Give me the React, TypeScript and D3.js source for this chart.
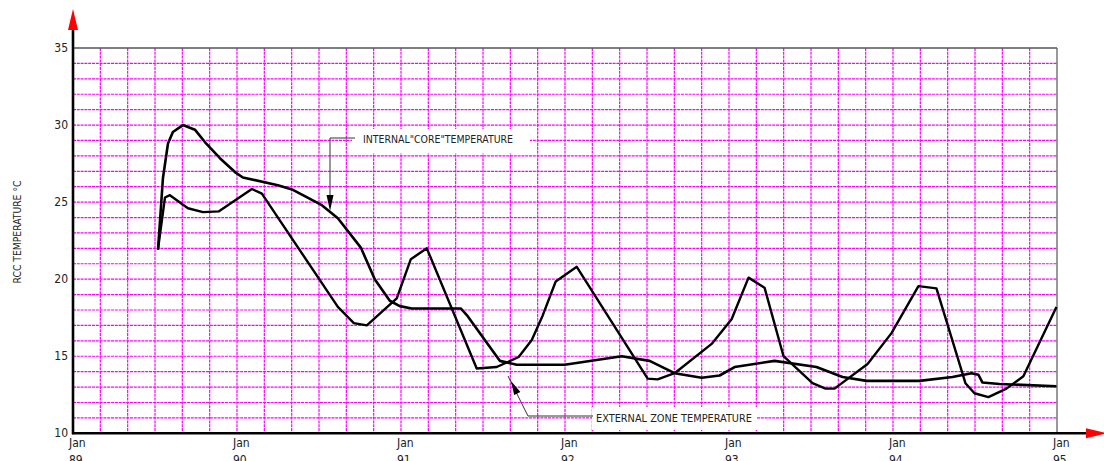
import React from "react";
import * as d3 from "d3";

// Months counted from Jan 1989
const internalMonths = [6.22, 6.58, 6.95, 7.31, 8.04, 8.92, 9.65, 10.75, 11.85, 12.43, 14.99, 16.09, 18.21, 19.38, 21.06, 22.08, 23.18, 23.91, 24.79, 28.37, 28.88, 31.23, 32.47, 35.98, 40.15, 42.19, 44.02, 46.0, 47.31, 48.41, 51.33, 54.4, 56.31, 58.06, 61.94, 64.35, 65.74, 66.25, 66.54, 67.79, 71.96];
const internalTemps = [21.9, 26.55, 28.8, 29.55, 30.0, 29.7, 28.9, 27.85, 26.95, 26.6, 26.1, 25.8, 24.8, 23.95, 22.05, 20.0, 18.6, 18.25, 18.1, 18.1, 17.6, 14.7, 14.45, 14.45, 15.0, 14.7, 13.9, 13.6, 13.75, 14.3, 14.7, 14.3, 13.65, 13.4, 13.4, 13.65, 13.9, 13.8, 13.3, 13.2, 13.05];

const externalMonths = [6.22, 6.73, 7.09, 8.41, 9.51, 10.68, 13.09, 13.82, 19.38, 20.55, 21.5, 23.69, 24.72, 25.89, 29.54, 31.0, 32.61, 33.57, 34.37, 35.32, 36.86, 42.05, 42.78, 44.02, 46.73, 48.19, 49.43, 50.6, 51.99, 54.11, 55.06, 55.72, 58.14, 59.89, 61.86, 63.18, 65.3, 65.96, 66.98, 68.3, 69.54, 71.96];
const externalTemps = [21.95, 25.3, 25.45, 24.6, 24.35, 24.4, 25.85, 25.55, 18.2, 17.15, 17.0, 18.75, 21.3, 22.0, 14.2, 14.3, 14.95, 16.05, 17.65, 19.85, 20.8, 13.55, 13.5, 13.9, 15.8, 17.4, 20.1, 19.45, 15.0, 13.25, 12.9, 12.9, 14.5, 16.5, 19.55, 19.4, 13.25, 12.6, 12.35, 12.9, 13.7, 18.2];

const yearTicks = [0, 12, 24, 36, 48, 60, 72];
const yearLabels = ["89", "90", "91", "92", "93", "94", "95"];
const tempTicks = [10, 15, 20, 25, 30, 35];

const W = 1104;
const H = 461;
const FONT = "'DejaVu Sans Condensed', 'Liberation Sans Narrow', 'Roboto Condensed', 'DejaVu Sans', sans-serif";

export default function App() {
  const x = d3.scaleLinear().domain([0, 72]).range([73, 1057]);
  const y = d3.scaleLinear().domain([10, 35]).range([433.3, 48]);

  const line = d3
    .line<[number, number]>()
    .x((d) => x(d[0]))
    .y((d) => y(d[1]));

  const internal = internalMonths.map((m, i) => [m, internalTemps[i]] as [number, number]);
  const external = externalMonths.map((m, i) => [m, externalTemps[i]] as [number, number]);

  const vGrid = d3.range(2, 72, 2);
  const hGrid = d3.range(11, 35, 1);

  const x0 = x(0);
  const x1 = x(72);
  const yTop = y(35);
  const yBot = y(10);

  // arrowhead polygon with tip at (tx, ty) pointing along direction (dx, dy)
  const arrow = (tx: number, ty: number, dx: number, dy: number, len: number, half: number) => {
    const l = Math.hypot(dx, dy);
    const ux = dx / l;
    const uy = dy / l;
    const bx = tx - ux * len;
    const by = ty - uy * len;
    return `${tx},${ty} ${bx - uy * half},${by + ux * half} ${bx + uy * half},${by - ux * half}`;
  };

  return (
    <div style={{ position: "fixed", left: 0, top: 0, width: W, height: H, background: "#fff" }}>
      <svg width={W} height={H} style={{ display: "block" }}>
        <rect width={W} height={H} fill="#fff" />

        {/* grid */}
        <g stroke="#ff00ff" strokeWidth={1.2} strokeDasharray="3,0.8">
          {vGrid.map((m) => (
            <line key={"v" + m} x1={x(m)} x2={x(m)} y1={yTop} y2={yBot} />
          ))}
          {hGrid.map((t) => (
            <line key={"h" + t} x1={x0} x2={x1} y1={y(t)} y2={y(t)} />
          ))}
        </g>

        {/* frame top and right */}
        <line x1={x0} x2={x1} y1={yTop} y2={yTop} stroke="#555" strokeWidth={1.5} />
        <line x1={x1} x2={x1} y1={yTop} y2={yBot} stroke="#555" strokeWidth={1.2} />

        {/* label boxes */}
        <rect x={352} y={129} width={178} height={24} fill="#fff" />
        <rect x={592} y={407} width={165} height={23} fill="#fff" />

        {/* series */}
        <path d={line(external) || ""} fill="none" stroke="#000" strokeWidth={2.4} strokeLinejoin="round" />
        <path d={line(internal) || ""} fill="none" stroke="#000" strokeWidth={2.6} strokeLinejoin="round" />

        {/* axes */}
        <line x1={x0} x2={x0} y1={yBot + 1} y2={30} stroke="#000" strokeWidth={2.6} />
        <polygon points={`${x0},9 ${x0 - 5},30 ${x0 + 5},30`} fill="#ff0000" />
        <line x1={x0 - 1} x2={1087} y1={yBot} y2={yBot} stroke="#000" strokeWidth={2.6} />
        <polygon points={`1107,${yBot} 1086,${yBot - 5} 1086,${yBot + 5}`} fill="#ff0000" />

        {/* y tick labels */}
        <g fontFamily={FONT} fontSize={12} fill="#222" textAnchor="end">
          {tempTicks.map((t) => (
            <text key={t} x={68} y={y(t) + 4}>
              {t}
            </text>
          ))}
        </g>

        {/* x tick labels */}
        <g fontFamily={FONT} fontSize={12} fill="#222">
          {yearTicks.map((m, i) => (
            <g key={m}>
              <text x={x(m) - 4} y={447}>Jan</text>
              <text x={x(m) - 4} y={464}>{yearLabels[i]}</text>
            </g>
          ))}
        </g>

        {/* y axis title */}
        <text
          transform="translate(21,232) rotate(-90)"
          textAnchor="middle"
          fontFamily={FONT}
          fontSize={11}
          fill="#222"
          textLength={103}
          lengthAdjust="spacingAndGlyphs"
        >
          RCC  TEMPERATURE  °C
        </text>

        {/* internal core annotation */}
        <polyline points={`355,138 330,138 330,198`} fill="none" stroke="#333" strokeWidth={1} />
        <polygon points={arrow(330, 211, 0, 1, 16, 3.5)} fill="#000" />
        <text
          x={363}
          y={143}
          fontFamily={FONT}
          fontSize={11}
          fill="#222"
          textLength={150}
          lengthAdjust="spacingAndGlyphs"
        >
          INTERNAL"CORE"TEMPERATURE
        </text>

        {/* external zone annotation */}
        <polyline points={`593,416 528,416 508,376`} fill="none" stroke="#333" strokeWidth={1} />
        <polygon points={arrow(511, 381, -20, -40, 14, 3.5)} fill="#000" />
        <text
          x={596}
          y={422}
          fontFamily={FONT}
          fontSize={11}
          fill="#222"
          textLength={156}
          lengthAdjust="spacingAndGlyphs"
        >
          EXTERNAL  ZONE  TEMPERATURE
        </text>
      </svg>
    </div>
  );
}
